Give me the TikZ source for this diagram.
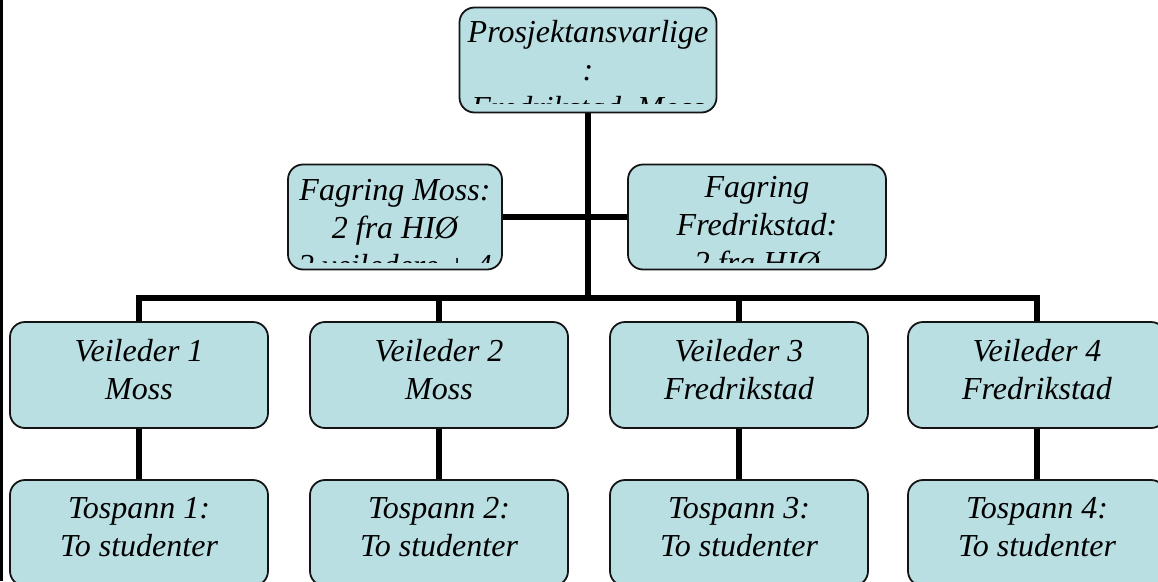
\documentclass[tikz,border=0pt]{standalone}
\usepackage{fontspec}
\setmainfont{Liberation Serif}
\usepackage{tikz}
\usetikzlibrary{backgrounds}

\definecolor{boxfill}{RGB}{185,223,227}
\definecolor{boxline}{RGB}{20,20,20}

\begin{document}
\begin{tikzpicture}[x=1pt, y=-1pt]
    \tikzstyle{orgbox} = [rectangle, rounded corners=15pt, draw=boxline, line width=1.8pt, fill=boxfill, inner sep=0pt, minimum width=258pt, minimum height=106pt]
    \tikzstyle{orgtext} = [align=center, inner sep=0pt, font=\fontsize{32}{38}\selectfont\itshape]
    \tikzstyle{link} = [line width=5.5pt]
    \clip (0,0) rectangle (1158,581);
    % page edge
    \fill[black] (0,0) rectangle (3,581);
    % top and fagring boxes (text runs past the box and is cut off)
    \node[orgbox, minimum width=257pt, minimum height=105pt] (top) at (588,60) {};
    \node[orgbox, minimum width=214pt, minimum height=105pt] (fmoss) at (395,217) {};
    \node[orgbox, minimum height=105pt] (ffred) at (757,217) {};
    \begin{scope}
        \clip (461,8) rectangle (716,103);
        \node[orgtext] (toptext) at ([yshift=-12pt]top.center) {Prosjektansvarlige\\:\\Fredrikstad, Moss};
    \end{scope}
    \begin{scope}
        \clip (289,165) rectangle (501,262);
        \node[orgtext] (fmosstext) at ([yshift=-11pt]fmoss.center) {Fagring Moss:\\2 fra HIØ\\2 veiledere + 4};
    \end{scope}
    \begin{scope}
        \clip (629,165) rectangle (885,262);
        \node[orgtext] (ffredtext) at ([yshift=-11pt]ffred.center) {Fagring\\Fredrikstad:\\2 fra HIØ};
    \end{scope}
    % veiledere and tospann
    \foreach \i/\x/\sted in {1/139/Moss,2/439/Moss,3/739/Fredrikstad,4/1037/Fredrikstad} {
        \node[orgbox] (v\i) at (\x,375) {};
        \node[orgtext] (v\i text) at ([yshift=5pt]v\i.center) {Veileder \i\\\sted};
        \node[orgbox] (t\i) at (\x,533) {};
        \node[orgtext] (t\i text) at ([yshift=6pt]t\i.center) {Tospann \i:\\To studenter};
    }
    % connectors
    \begin{scope}[on background layer]
        \coordinate (hub) at (top.south |- 0,298);
        \draw[link] (top.south) -- (hub);
        \draw[link] (fmoss.east) -- (ffred.west);
        \draw[link] (v1.north) |- (hub) -| (v4.north);
        \draw[link] (v2.north) -- (v2.north |- hub);
        \draw[link] (v3.north) -- (v3.north |- hub);
        \foreach \i in {1,...,4} {
            \draw[link] (v\i.south) -- (t\i.north);
        }
    \end{scope}
\end{tikzpicture}
\end{document}
